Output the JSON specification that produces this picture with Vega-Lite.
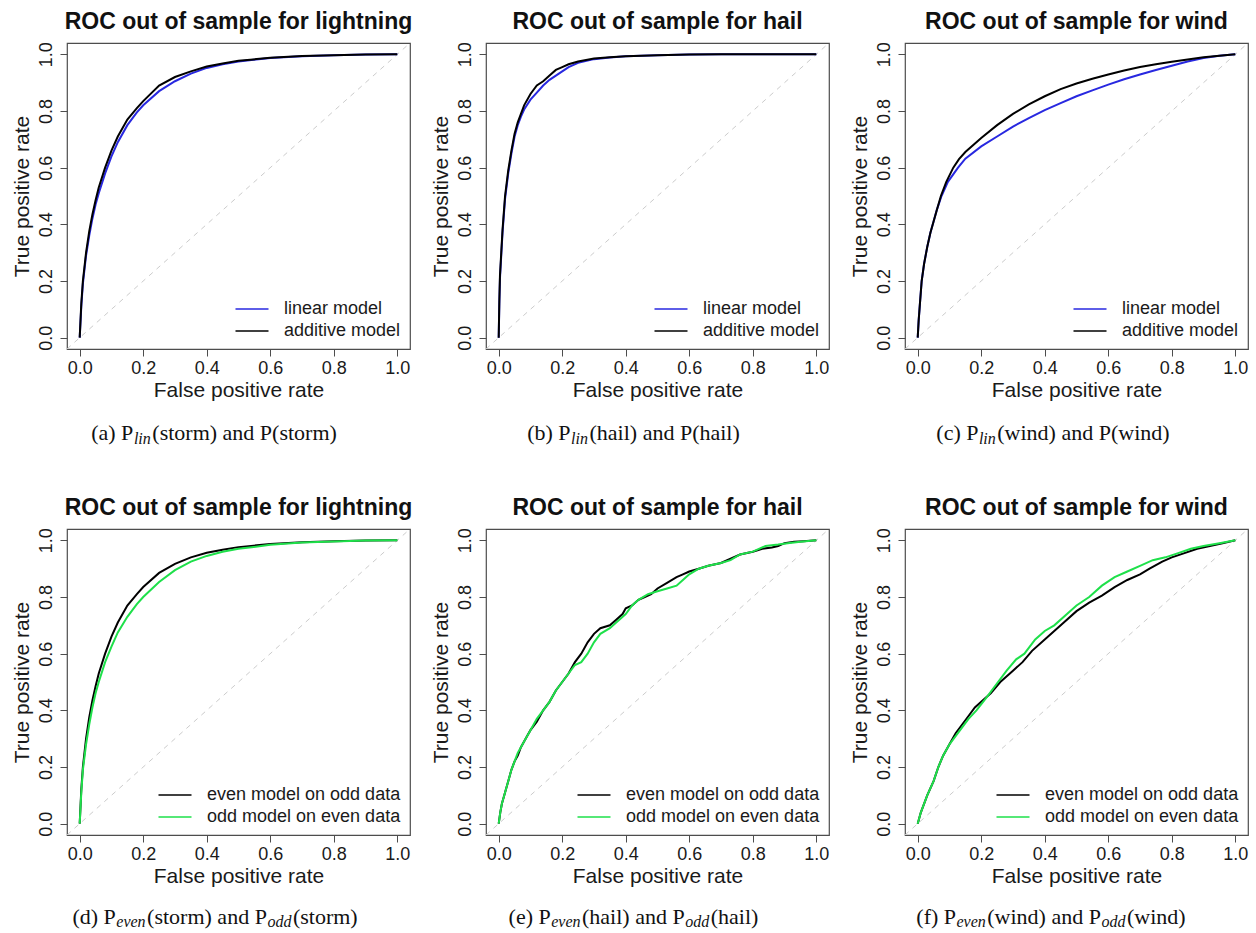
{
  "$schema": "https://vega.github.io/schema/vega-lite/v6.json",
  "bounds": "flush",
  "padding": {"left": 10, "top": 10, "right": 5, "bottom": 5},
  "background": "white",
  "columns": 3,
  "spacing": {"row": 180, "column": 76},
  "resolve": {"scale": {"color": "independent"}, "legend": {"color": "independent"}},
  "datasets": {
    "roc": [
      {"p":"a","m":"linear model","x":0,"y":0},{"p":"a","m":"linear model","x":0.005,"y":0.11},{"p":"a","m":"linear model","x":0.01,"y":0.19},{"p":"a","m":"linear model","x":0.02,"y":0.29},{"p":"a","m":"linear model","x":0.03,"y":0.36},{"p":"a","m":"linear model","x":0.04,"y":0.42},{"p":"a","m":"linear model","x":0.05,"y":0.47},{"p":"a","m":"linear model","x":0.06,"y":0.51},{"p":"a","m":"linear model","x":0.08,"y":0.58},{"p":"a","m":"linear model","x":0.1,"y":0.64},{"p":"a","m":"linear model","x":0.12,"y":0.69},{"p":"a","m":"linear model","x":0.15,"y":0.75},{"p":"a","m":"linear model","x":0.18,"y":0.795},{"p":"a","m":"linear model","x":0.2,"y":0.82},{"p":"a","m":"linear model","x":0.25,"y":0.87},{"p":"a","m":"linear model","x":0.3,"y":0.905},{"p":"a","m":"linear model","x":0.35,"y":0.932},{"p":"a","m":"linear model","x":0.4,"y":0.952},{"p":"a","m":"linear model","x":0.45,"y":0.965},{"p":"a","m":"linear model","x":0.5,"y":0.975},{"p":"a","m":"linear model","x":0.6,"y":0.987},{"p":"a","m":"linear model","x":0.7,"y":0.993},{"p":"a","m":"linear model","x":0.8,"y":0.997},{"p":"a","m":"linear model","x":0.9,"y":0.999},{"p":"a","m":"linear model","x":1,"y":1},
      {"p":"a","m":"additive model","x":0,"y":0},{"p":"a","m":"additive model","x":0.005,"y":0.12},{"p":"a","m":"additive model","x":0.01,"y":0.2},{"p":"a","m":"additive model","x":0.02,"y":0.3},{"p":"a","m":"additive model","x":0.03,"y":0.375},{"p":"a","m":"additive model","x":0.04,"y":0.435},{"p":"a","m":"additive model","x":0.05,"y":0.485},{"p":"a","m":"additive model","x":0.06,"y":0.53},{"p":"a","m":"additive model","x":0.08,"y":0.6},{"p":"a","m":"additive model","x":0.1,"y":0.66},{"p":"a","m":"additive model","x":0.12,"y":0.71},{"p":"a","m":"additive model","x":0.15,"y":0.77},{"p":"a","m":"additive model","x":0.18,"y":0.81},{"p":"a","m":"additive model","x":0.2,"y":0.835},{"p":"a","m":"additive model","x":0.25,"y":0.89},{"p":"a","m":"additive model","x":0.3,"y":0.92},{"p":"a","m":"additive model","x":0.35,"y":0.94},{"p":"a","m":"additive model","x":0.4,"y":0.957},{"p":"a","m":"additive model","x":0.45,"y":0.968},{"p":"a","m":"additive model","x":0.5,"y":0.977},{"p":"a","m":"additive model","x":0.6,"y":0.988},{"p":"a","m":"additive model","x":0.7,"y":0.994},{"p":"a","m":"additive model","x":0.8,"y":0.997},{"p":"a","m":"additive model","x":0.9,"y":0.999},{"p":"a","m":"additive model","x":1,"y":1},

      {"p":"b","m":"linear model","x":0,"y":0},{"p":"b","m":"linear model","x":0.002,"y":0.12},{"p":"b","m":"linear model","x":0.004,"y":0.21},{"p":"b","m":"linear model","x":0.008,"y":0.29},{"p":"b","m":"linear model","x":0.012,"y":0.37},{"p":"b","m":"linear model","x":0.016,"y":0.43},{"p":"b","m":"linear model","x":0.02,"y":0.49},{"p":"b","m":"linear model","x":0.03,"y":0.58},{"p":"b","m":"linear model","x":0.04,"y":0.65},{"p":"b","m":"linear model","x":0.05,"y":0.71},{"p":"b","m":"linear model","x":0.06,"y":0.75},{"p":"b","m":"linear model","x":0.07,"y":0.78},{"p":"b","m":"linear model","x":0.08,"y":0.805},{"p":"b","m":"linear model","x":0.1,"y":0.84},{"p":"b","m":"linear model","x":0.12,"y":0.865},{"p":"b","m":"linear model","x":0.14,"y":0.89},{"p":"b","m":"linear model","x":0.16,"y":0.91},{"p":"b","m":"linear model","x":0.18,"y":0.925},{"p":"b","m":"linear model","x":0.2,"y":0.94},{"p":"b","m":"linear model","x":0.22,"y":0.955},{"p":"b","m":"linear model","x":0.25,"y":0.97},{"p":"b","m":"linear model","x":0.3,"y":0.983},{"p":"b","m":"linear model","x":0.35,"y":0.989},{"p":"b","m":"linear model","x":0.4,"y":0.993},{"p":"b","m":"linear model","x":0.5,"y":0.997},{"p":"b","m":"linear model","x":0.6,"y":0.999},{"p":"b","m":"linear model","x":0.7,"y":1},{"p":"b","m":"linear model","x":1,"y":1},
      {"p":"b","m":"additive model","x":0,"y":0},{"p":"b","m":"additive model","x":0.002,"y":0.13},{"p":"b","m":"additive model","x":0.004,"y":0.22},{"p":"b","m":"additive model","x":0.008,"y":0.3},{"p":"b","m":"additive model","x":0.012,"y":0.38},{"p":"b","m":"additive model","x":0.016,"y":0.44},{"p":"b","m":"additive model","x":0.02,"y":0.5},{"p":"b","m":"additive model","x":0.03,"y":0.59},{"p":"b","m":"additive model","x":0.04,"y":0.66},{"p":"b","m":"additive model","x":0.05,"y":0.72},{"p":"b","m":"additive model","x":0.06,"y":0.76},{"p":"b","m":"additive model","x":0.07,"y":0.79},{"p":"b","m":"additive model","x":0.08,"y":0.82},{"p":"b","m":"additive model","x":0.1,"y":0.86},{"p":"b","m":"additive model","x":0.12,"y":0.89},{"p":"b","m":"additive model","x":0.14,"y":0.905},{"p":"b","m":"additive model","x":0.16,"y":0.925},{"p":"b","m":"additive model","x":0.18,"y":0.945},{"p":"b","m":"additive model","x":0.2,"y":0.955},{"p":"b","m":"additive model","x":0.22,"y":0.965},{"p":"b","m":"additive model","x":0.25,"y":0.975},{"p":"b","m":"additive model","x":0.3,"y":0.985},{"p":"b","m":"additive model","x":0.35,"y":0.99},{"p":"b","m":"additive model","x":0.4,"y":0.993},{"p":"b","m":"additive model","x":0.5,"y":0.997},{"p":"b","m":"additive model","x":0.6,"y":0.999},{"p":"b","m":"additive model","x":0.7,"y":1},{"p":"b","m":"additive model","x":1,"y":1},

      {"p":"c","m":"linear model","x":0,"y":0},{"p":"c","m":"linear model","x":0.003,"y":0.06},{"p":"c","m":"linear model","x":0.007,"y":0.12},{"p":"c","m":"linear model","x":0.0125,"y":0.2},{"p":"c","m":"linear model","x":0.02,"y":0.26},{"p":"c","m":"linear model","x":0.03,"y":0.32},{"p":"c","m":"linear model","x":0.04,"y":0.37},{"p":"c","m":"linear model","x":0.05,"y":0.41},{"p":"c","m":"linear model","x":0.06,"y":0.45},{"p":"c","m":"linear model","x":0.075,"y":0.5},{"p":"c","m":"linear model","x":0.095,"y":0.55},{"p":"c","m":"linear model","x":0.127,"y":0.6},{"p":"c","m":"linear model","x":0.15,"y":0.632},{"p":"c","m":"linear model","x":0.2,"y":0.675},{"p":"c","m":"linear model","x":0.25,"y":0.71},{"p":"c","m":"linear model","x":0.3,"y":0.745},{"p":"c","m":"linear model","x":0.35,"y":0.775},{"p":"c","m":"linear model","x":0.4,"y":0.803},{"p":"c","m":"linear model","x":0.45,"y":0.828},{"p":"c","m":"linear model","x":0.5,"y":0.852},{"p":"c","m":"linear model","x":0.55,"y":0.873},{"p":"c","m":"linear model","x":0.6,"y":0.893},{"p":"c","m":"linear model","x":0.65,"y":0.912},{"p":"c","m":"linear model","x":0.7,"y":0.929},{"p":"c","m":"linear model","x":0.75,"y":0.945},{"p":"c","m":"linear model","x":0.8,"y":0.96},{"p":"c","m":"linear model","x":0.85,"y":0.975},{"p":"c","m":"linear model","x":0.9,"y":0.987},{"p":"c","m":"linear model","x":0.95,"y":0.995},{"p":"c","m":"linear model","x":1,"y":1},
      {"p":"c","m":"additive model","x":0,"y":0},{"p":"c","m":"additive model","x":0.003,"y":0.06},{"p":"c","m":"additive model","x":0.007,"y":0.12},{"p":"c","m":"additive model","x":0.0125,"y":0.2},{"p":"c","m":"additive model","x":0.02,"y":0.26},{"p":"c","m":"additive model","x":0.03,"y":0.32},{"p":"c","m":"additive model","x":0.04,"y":0.37},{"p":"c","m":"additive model","x":0.05,"y":0.41},{"p":"c","m":"additive model","x":0.06,"y":0.45},{"p":"c","m":"additive model","x":0.073,"y":0.5},{"p":"c","m":"additive model","x":0.09,"y":0.55},{"p":"c","m":"additive model","x":0.112,"y":0.6},{"p":"c","m":"additive model","x":0.13,"y":0.63},{"p":"c","m":"additive model","x":0.15,"y":0.655},{"p":"c","m":"additive model","x":0.2,"y":0.705},{"p":"c","m":"additive model","x":0.25,"y":0.75},{"p":"c","m":"additive model","x":0.3,"y":0.79},{"p":"c","m":"additive model","x":0.35,"y":0.823},{"p":"c","m":"additive model","x":0.4,"y":0.852},{"p":"c","m":"additive model","x":0.45,"y":0.877},{"p":"c","m":"additive model","x":0.5,"y":0.897},{"p":"c","m":"additive model","x":0.55,"y":0.914},{"p":"c","m":"additive model","x":0.6,"y":0.929},{"p":"c","m":"additive model","x":0.65,"y":0.943},{"p":"c","m":"additive model","x":0.7,"y":0.955},{"p":"c","m":"additive model","x":0.75,"y":0.965},{"p":"c","m":"additive model","x":0.8,"y":0.974},{"p":"c","m":"additive model","x":0.85,"y":0.982},{"p":"c","m":"additive model","x":0.9,"y":0.99},{"p":"c","m":"additive model","x":0.95,"y":0.995},{"p":"c","m":"additive model","x":1,"y":1},

      {"p":"d","m":"even model on odd data","x":0,"y":0},{"p":"d","m":"even model on odd data","x":0.005,"y":0.12},{"p":"d","m":"even model on odd data","x":0.01,"y":0.2},{"p":"d","m":"even model on odd data","x":0.02,"y":0.3},{"p":"d","m":"even model on odd data","x":0.03,"y":0.375},{"p":"d","m":"even model on odd data","x":0.04,"y":0.435},{"p":"d","m":"even model on odd data","x":0.05,"y":0.485},{"p":"d","m":"even model on odd data","x":0.06,"y":0.53},{"p":"d","m":"even model on odd data","x":0.08,"y":0.6},{"p":"d","m":"even model on odd data","x":0.1,"y":0.66},{"p":"d","m":"even model on odd data","x":0.12,"y":0.71},{"p":"d","m":"even model on odd data","x":0.15,"y":0.77},{"p":"d","m":"even model on odd data","x":0.18,"y":0.81},{"p":"d","m":"even model on odd data","x":0.2,"y":0.835},{"p":"d","m":"even model on odd data","x":0.25,"y":0.885},{"p":"d","m":"even model on odd data","x":0.3,"y":0.917},{"p":"d","m":"even model on odd data","x":0.35,"y":0.94},{"p":"d","m":"even model on odd data","x":0.4,"y":0.956},{"p":"d","m":"even model on odd data","x":0.45,"y":0.967},{"p":"d","m":"even model on odd data","x":0.5,"y":0.976},{"p":"d","m":"even model on odd data","x":0.6,"y":0.987},{"p":"d","m":"even model on odd data","x":0.7,"y":0.993},{"p":"d","m":"even model on odd data","x":0.8,"y":0.997},{"p":"d","m":"even model on odd data","x":0.9,"y":0.999},{"p":"d","m":"even model on odd data","x":1,"y":1},
      {"p":"d","m":"odd model on even data","x":0,"y":0},{"p":"d","m":"odd model on even data","x":0.005,"y":0.11},{"p":"d","m":"odd model on even data","x":0.01,"y":0.19},{"p":"d","m":"odd model on even data","x":0.02,"y":0.28},{"p":"d","m":"odd model on even data","x":0.03,"y":0.35},{"p":"d","m":"odd model on even data","x":0.04,"y":0.41},{"p":"d","m":"odd model on even data","x":0.05,"y":0.46},{"p":"d","m":"odd model on even data","x":0.06,"y":0.5},{"p":"d","m":"odd model on even data","x":0.08,"y":0.57},{"p":"d","m":"odd model on even data","x":0.1,"y":0.625},{"p":"d","m":"odd model on even data","x":0.12,"y":0.675},{"p":"d","m":"odd model on even data","x":0.15,"y":0.73},{"p":"d","m":"odd model on even data","x":0.18,"y":0.775},{"p":"d","m":"odd model on even data","x":0.2,"y":0.8},{"p":"d","m":"odd model on even data","x":0.25,"y":0.853},{"p":"d","m":"odd model on even data","x":0.3,"y":0.895},{"p":"d","m":"odd model on even data","x":0.35,"y":0.925},{"p":"d","m":"odd model on even data","x":0.4,"y":0.945},{"p":"d","m":"odd model on even data","x":0.45,"y":0.96},{"p":"d","m":"odd model on even data","x":0.5,"y":0.97},{"p":"d","m":"odd model on even data","x":0.6,"y":0.984},{"p":"d","m":"odd model on even data","x":0.7,"y":0.992},{"p":"d","m":"odd model on even data","x":0.8,"y":0.996},{"p":"d","m":"odd model on even data","x":0.9,"y":0.999},{"p":"d","m":"odd model on even data","x":1,"y":1},

      {"p":"e","m":"even model on odd data","x":0,"y":0},{"p":"e","m":"even model on odd data","x":0.005,"y":0.04},{"p":"e","m":"even model on odd data","x":0.01,"y":0.07},{"p":"e","m":"even model on odd data","x":0.02,"y":0.11},{"p":"e","m":"even model on odd data","x":0.03,"y":0.15},{"p":"e","m":"even model on odd data","x":0.04,"y":0.19},{"p":"e","m":"even model on odd data","x":0.05,"y":0.22},{"p":"e","m":"even model on odd data","x":0.06,"y":0.24},{"p":"e","m":"even model on odd data","x":0.07,"y":0.27},{"p":"e","m":"even model on odd data","x":0.08,"y":0.29},{"p":"e","m":"even model on odd data","x":0.09,"y":0.31},{"p":"e","m":"even model on odd data","x":0.1,"y":0.33},{"p":"e","m":"even model on odd data","x":0.12,"y":0.36},{"p":"e","m":"even model on odd data","x":0.14,"y":0.4},{"p":"e","m":"even model on odd data","x":0.16,"y":0.43},{"p":"e","m":"even model on odd data","x":0.18,"y":0.47},{"p":"e","m":"even model on odd data","x":0.2,"y":0.5},{"p":"e","m":"even model on odd data","x":0.22,"y":0.53},{"p":"e","m":"even model on odd data","x":0.24,"y":0.57},{"p":"e","m":"even model on odd data","x":0.26,"y":0.6},{"p":"e","m":"even model on odd data","x":0.28,"y":0.64},{"p":"e","m":"even model on odd data","x":0.3,"y":0.67},{"p":"e","m":"even model on odd data","x":0.32,"y":0.69},{"p":"e","m":"even model on odd data","x":0.35,"y":0.7},{"p":"e","m":"even model on odd data","x":0.37,"y":0.72},{"p":"e","m":"even model on odd data","x":0.39,"y":0.74},{"p":"e","m":"even model on odd data","x":0.4,"y":0.76},{"p":"e","m":"even model on odd data","x":0.42,"y":0.77},{"p":"e","m":"even model on odd data","x":0.44,"y":0.79},{"p":"e","m":"even model on odd data","x":0.46,"y":0.8},{"p":"e","m":"even model on odd data","x":0.48,"y":0.81},{"p":"e","m":"even model on odd data","x":0.5,"y":0.83},{"p":"e","m":"even model on odd data","x":0.53,"y":0.85},{"p":"e","m":"even model on odd data","x":0.56,"y":0.87},{"p":"e","m":"even model on odd data","x":0.58,"y":0.88},{"p":"e","m":"even model on odd data","x":0.6,"y":0.89},{"p":"e","m":"even model on odd data","x":0.63,"y":0.9},{"p":"e","m":"even model on odd data","x":0.66,"y":0.91},{"p":"e","m":"even model on odd data","x":0.7,"y":0.92},{"p":"e","m":"even model on odd data","x":0.73,"y":0.935},{"p":"e","m":"even model on odd data","x":0.76,"y":0.95},{"p":"e","m":"even model on odd data","x":0.8,"y":0.96},{"p":"e","m":"even model on odd data","x":0.83,"y":0.97},{"p":"e","m":"even model on odd data","x":0.86,"y":0.975},{"p":"e","m":"even model on odd data","x":0.88,"y":0.98},{"p":"e","m":"even model on odd data","x":0.9,"y":0.99},{"p":"e","m":"even model on odd data","x":0.93,"y":0.995},{"p":"e","m":"even model on odd data","x":0.96,"y":0.997},{"p":"e","m":"even model on odd data","x":1,"y":1},
      {"p":"e","m":"odd model on even data","x":0,"y":0},{"p":"e","m":"odd model on even data","x":0.005,"y":0.04},{"p":"e","m":"odd model on even data","x":0.01,"y":0.07},{"p":"e","m":"odd model on even data","x":0.02,"y":0.11},{"p":"e","m":"odd model on even data","x":0.03,"y":0.15},{"p":"e","m":"odd model on even data","x":0.04,"y":0.19},{"p":"e","m":"odd model on even data","x":0.05,"y":0.22},{"p":"e","m":"odd model on even data","x":0.06,"y":0.25},{"p":"e","m":"odd model on even data","x":0.07,"y":0.27},{"p":"e","m":"odd model on even data","x":0.08,"y":0.29},{"p":"e","m":"odd model on even data","x":0.1,"y":0.33},{"p":"e","m":"odd model on even data","x":0.12,"y":0.37},{"p":"e","m":"odd model on even data","x":0.14,"y":0.4},{"p":"e","m":"odd model on even data","x":0.16,"y":0.43},{"p":"e","m":"odd model on even data","x":0.18,"y":0.47},{"p":"e","m":"odd model on even data","x":0.2,"y":0.5},{"p":"e","m":"odd model on even data","x":0.22,"y":0.53},{"p":"e","m":"odd model on even data","x":0.24,"y":0.56},{"p":"e","m":"odd model on even data","x":0.26,"y":0.57},{"p":"e","m":"odd model on even data","x":0.28,"y":0.6},{"p":"e","m":"odd model on even data","x":0.3,"y":0.64},{"p":"e","m":"odd model on even data","x":0.32,"y":0.67},{"p":"e","m":"odd model on even data","x":0.35,"y":0.69},{"p":"e","m":"odd model on even data","x":0.37,"y":0.71},{"p":"e","m":"odd model on even data","x":0.4,"y":0.74},{"p":"e","m":"odd model on even data","x":0.42,"y":0.77},{"p":"e","m":"odd model on even data","x":0.44,"y":0.79},{"p":"e","m":"odd model on even data","x":0.47,"y":0.81},{"p":"e","m":"odd model on even data","x":0.5,"y":0.82},{"p":"e","m":"odd model on even data","x":0.53,"y":0.83},{"p":"e","m":"odd model on even data","x":0.56,"y":0.84},{"p":"e","m":"odd model on even data","x":0.58,"y":0.86},{"p":"e","m":"odd model on even data","x":0.6,"y":0.88},{"p":"e","m":"odd model on even data","x":0.63,"y":0.9},{"p":"e","m":"odd model on even data","x":0.66,"y":0.91},{"p":"e","m":"odd model on even data","x":0.7,"y":0.92},{"p":"e","m":"odd model on even data","x":0.73,"y":0.93},{"p":"e","m":"odd model on even data","x":0.76,"y":0.95},{"p":"e","m":"odd model on even data","x":0.8,"y":0.96},{"p":"e","m":"odd model on even data","x":0.84,"y":0.98},{"p":"e","m":"odd model on even data","x":0.88,"y":0.985},{"p":"e","m":"odd model on even data","x":0.91,"y":0.99},{"p":"e","m":"odd model on even data","x":0.95,"y":0.995},{"p":"e","m":"odd model on even data","x":1,"y":1},

      {"p":"f","m":"even model on odd data","x":0,"y":0},{"p":"f","m":"even model on odd data","x":0.005,"y":0.02},{"p":"f","m":"even model on odd data","x":0.01,"y":0.04},{"p":"f","m":"even model on odd data","x":0.02,"y":0.07},{"p":"f","m":"even model on odd data","x":0.03,"y":0.1},{"p":"f","m":"even model on odd data","x":0.05,"y":0.15},{"p":"f","m":"even model on odd data","x":0.065,"y":0.2},{"p":"f","m":"even model on odd data","x":0.08,"y":0.24},{"p":"f","m":"even model on odd data","x":0.1,"y":0.28},{"p":"f","m":"even model on odd data","x":0.12,"y":0.32},{"p":"f","m":"even model on odd data","x":0.14,"y":0.35},{"p":"f","m":"even model on odd data","x":0.16,"y":0.38},{"p":"f","m":"even model on odd data","x":0.18,"y":0.41},{"p":"f","m":"even model on odd data","x":0.2,"y":0.43},{"p":"f","m":"even model on odd data","x":0.23,"y":0.46},{"p":"f","m":"even model on odd data","x":0.26,"y":0.5},{"p":"f","m":"even model on odd data","x":0.3,"y":0.54},{"p":"f","m":"even model on odd data","x":0.33,"y":0.57},{"p":"f","m":"even model on odd data","x":0.36,"y":0.61},{"p":"f","m":"even model on odd data","x":0.4,"y":0.65},{"p":"f","m":"even model on odd data","x":0.43,"y":0.68},{"p":"f","m":"even model on odd data","x":0.46,"y":0.71},{"p":"f","m":"even model on odd data","x":0.5,"y":0.75},{"p":"f","m":"even model on odd data","x":0.54,"y":0.78},{"p":"f","m":"even model on odd data","x":0.58,"y":0.805},{"p":"f","m":"even model on odd data","x":0.62,"y":0.835},{"p":"f","m":"even model on odd data","x":0.66,"y":0.86},{"p":"f","m":"even model on odd data","x":0.7,"y":0.88},{"p":"f","m":"even model on odd data","x":0.73,"y":0.9},{"p":"f","m":"even model on odd data","x":0.77,"y":0.925},{"p":"f","m":"even model on odd data","x":0.8,"y":0.94},{"p":"f","m":"even model on odd data","x":0.84,"y":0.955},{"p":"f","m":"even model on odd data","x":0.88,"y":0.97},{"p":"f","m":"even model on odd data","x":0.92,"y":0.98},{"p":"f","m":"even model on odd data","x":0.96,"y":0.99},{"p":"f","m":"even model on odd data","x":1,"y":1},
      {"p":"f","m":"odd model on even data","x":0,"y":0},{"p":"f","m":"odd model on even data","x":0.005,"y":0.02},{"p":"f","m":"odd model on even data","x":0.01,"y":0.04},{"p":"f","m":"odd model on even data","x":0.02,"y":0.07},{"p":"f","m":"odd model on even data","x":0.03,"y":0.1},{"p":"f","m":"odd model on even data","x":0.05,"y":0.15},{"p":"f","m":"odd model on even data","x":0.065,"y":0.2},{"p":"f","m":"odd model on even data","x":0.08,"y":0.24},{"p":"f","m":"odd model on even data","x":0.1,"y":0.28},{"p":"f","m":"odd model on even data","x":0.12,"y":0.31},{"p":"f","m":"odd model on even data","x":0.14,"y":0.34},{"p":"f","m":"odd model on even data","x":0.16,"y":0.37},{"p":"f","m":"odd model on even data","x":0.185,"y":0.4},{"p":"f","m":"odd model on even data","x":0.22,"y":0.45},{"p":"f","m":"odd model on even data","x":0.253,"y":0.5},{"p":"f","m":"odd model on even data","x":0.28,"y":0.54},{"p":"f","m":"odd model on even data","x":0.31,"y":0.58},{"p":"f","m":"odd model on even data","x":0.336,"y":0.6},{"p":"f","m":"odd model on even data","x":0.37,"y":0.65},{"p":"f","m":"odd model on even data","x":0.4,"y":0.68},{"p":"f","m":"odd model on even data","x":0.43,"y":0.7},{"p":"f","m":"odd model on even data","x":0.47,"y":0.74},{"p":"f","m":"odd model on even data","x":0.5,"y":0.77},{"p":"f","m":"odd model on even data","x":0.54,"y":0.8},{"p":"f","m":"odd model on even data","x":0.58,"y":0.84},{"p":"f","m":"odd model on even data","x":0.62,"y":0.87},{"p":"f","m":"odd model on even data","x":0.66,"y":0.89},{"p":"f","m":"odd model on even data","x":0.7,"y":0.91},{"p":"f","m":"odd model on even data","x":0.74,"y":0.93},{"p":"f","m":"odd model on even data","x":0.78,"y":0.94},{"p":"f","m":"odd model on even data","x":0.82,"y":0.955},{"p":"f","m":"odd model on even data","x":0.86,"y":0.97},{"p":"f","m":"odd model on even data","x":0.9,"y":0.98},{"p":"f","m":"odd model on even data","x":0.95,"y":0.99},{"p":"f","m":"odd model on even data","x":1,"y":1}
    ]
  },
  "concat": [
    {
      "width": 343, "height": 306,
      "title": "ROC out of sample for lightning",
      "layer": [
        {"data": {"values": [{}]}, "mark": {"type": "rule", "color": "#cccccc", "strokeDash": [5, 5], "strokeWidth": 1},
         "encoding": {"x": {"datum": -0.04, "type": "quantitative"}, "y": {"datum": -0.04, "type": "quantitative"}, "x2": {"datum": 1.04}, "y2": {"datum": 1.04}}},
        {"data": {"name": "roc"}, "transform": [{"filter": "datum.p === 'a'"}], "mark": {"type": "line", "strokeWidth": 2},
         "encoding": {
           "x": {"field": "x", "type": "quantitative", "scale": {"domain": [-0.04, 1.04], "nice": false, "zero": false}, "axis": {"title": "False positive rate", "values": [0, 0.2, 0.4, 0.6, 0.8, 1]}},
           "y": {"field": "y", "type": "quantitative", "scale": {"domain": [-0.04, 1.04], "nice": false, "zero": false}, "axis": {"title": "True positive rate", "values": [0, 0.2, 0.4, 0.6, 0.8, 1]}},
           "color": {"field": "m", "type": "nominal", "scale": {"domain": ["linear model", "additive model"], "range": ["#2828e0", "#000000"]}, "legend": {"title": null}}}},
        {"data": {"values": [{}]}, "mark": {"type": "text", "font": "Liberation Serif", "fontSize": 22, "align": "left", "baseline": "alphabetic", "color": "#111111"},
         "encoding": {"x": {"datum": 0.0362}, "y": {"datum": -0.361}, "text": {"value": "(a) P"}}},
        {"data": {"values": [{}]}, "mark": {"type": "text", "font": "Liberation Serif", "fontSize": 16, "fontStyle": "italic", "align": "left", "baseline": "alphabetic", "color": "#111111"},
         "encoding": {"x": {"datum": 0.1707}, "y": {"datum": -0.375}, "text": {"value": "lin"}}},
        {"data": {"values": [{}]}, "mark": {"type": "text", "font": "Liberation Serif", "fontSize": 22, "align": "left", "baseline": "alphabetic", "color": "#111111"},
         "encoding": {"x": {"datum": 0.2286}, "y": {"datum": -0.361}, "text": {"value": "(storm) and P(storm)"}}}
      ]
    },
    {
      "width": 343, "height": 306,
      "title": "ROC out of sample for hail",
      "layer": [
        {"data": {"values": [{}]}, "mark": {"type": "rule", "color": "#cccccc", "strokeDash": [5, 5], "strokeWidth": 1},
         "encoding": {"x": {"datum": -0.04, "type": "quantitative"}, "y": {"datum": -0.04, "type": "quantitative"}, "x2": {"datum": 1.04}, "y2": {"datum": 1.04}}},
        {"data": {"name": "roc"}, "transform": [{"filter": "datum.p === 'b'"}], "mark": {"type": "line", "strokeWidth": 2},
         "encoding": {
           "x": {"field": "x", "type": "quantitative", "scale": {"domain": [-0.04, 1.04], "nice": false, "zero": false}, "axis": {"title": "False positive rate", "values": [0, 0.2, 0.4, 0.6, 0.8, 1]}},
           "y": {"field": "y", "type": "quantitative", "scale": {"domain": [-0.04, 1.04], "nice": false, "zero": false}, "axis": {"title": "True positive rate", "values": [0, 0.2, 0.4, 0.6, 0.8, 1]}},
           "color": {"field": "m", "type": "nominal", "scale": {"domain": ["linear model", "additive model"], "range": ["#2828e0", "#000000"]}, "legend": {"title": null}}}},
        {"data": {"values": [{}]}, "mark": {"type": "text", "font": "Liberation Serif", "fontSize": 22, "align": "left", "baseline": "alphabetic", "color": "#111111"},
         "encoding": {"x": {"datum": 0.0897}, "y": {"datum": -0.361}, "text": {"value": "(b) P"}}},
        {"data": {"values": [{}]}, "mark": {"type": "text", "font": "Liberation Serif", "fontSize": 16, "fontStyle": "italic", "align": "left", "baseline": "alphabetic", "color": "#111111"},
         "encoding": {"x": {"datum": 0.228}, "y": {"datum": -0.375}, "text": {"value": "lin"}}},
        {"data": {"values": [{}]}, "mark": {"type": "text", "font": "Liberation Serif", "fontSize": 22, "align": "left", "baseline": "alphabetic", "color": "#111111"},
         "encoding": {"x": {"datum": 0.2859}, "y": {"datum": -0.361}, "text": {"value": "(hail) and P(hail)"}}}
      ]
    },
    {
      "width": 343, "height": 306,
      "title": "ROC out of sample for wind",
      "layer": [
        {"data": {"values": [{}]}, "mark": {"type": "rule", "color": "#cccccc", "strokeDash": [5, 5], "strokeWidth": 1},
         "encoding": {"x": {"datum": -0.04, "type": "quantitative"}, "y": {"datum": -0.04, "type": "quantitative"}, "x2": {"datum": 1.04}, "y2": {"datum": 1.04}}},
        {"data": {"name": "roc"}, "transform": [{"filter": "datum.p === 'c'"}], "mark": {"type": "line", "strokeWidth": 2},
         "encoding": {
           "x": {"field": "x", "type": "quantitative", "scale": {"domain": [-0.04, 1.04], "nice": false, "zero": false}, "axis": {"title": "False positive rate", "values": [0, 0.2, 0.4, 0.6, 0.8, 1]}},
           "y": {"field": "y", "type": "quantitative", "scale": {"domain": [-0.04, 1.04], "nice": false, "zero": false}, "axis": {"title": "True positive rate", "values": [0, 0.2, 0.4, 0.6, 0.8, 1]}},
           "color": {"field": "m", "type": "nominal", "scale": {"domain": ["linear model", "additive model"], "range": ["#2828e0", "#000000"]}, "legend": {"title": null}}}},
        {"data": {"values": [{}]}, "mark": {"type": "text", "font": "Liberation Serif", "fontSize": 22, "align": "left", "baseline": "alphabetic", "color": "#111111"},
         "encoding": {"x": {"datum": 0.0586}, "y": {"datum": -0.361}, "text": {"value": "(c) P"}}},
        {"data": {"values": [{}]}, "mark": {"type": "text", "font": "Liberation Serif", "fontSize": 16, "fontStyle": "italic", "align": "left", "baseline": "alphabetic", "color": "#111111"},
         "encoding": {"x": {"datum": 0.1927}, "y": {"datum": -0.375}, "text": {"value": "lin"}}},
        {"data": {"values": [{}]}, "mark": {"type": "text", "font": "Liberation Serif", "fontSize": 22, "align": "left", "baseline": "alphabetic", "color": "#111111"},
         "encoding": {"x": {"datum": 0.2506}, "y": {"datum": -0.361}, "text": {"value": "(wind) and P(wind)"}}}
      ]
    },
    {
      "width": 343, "height": 306,
      "title": "ROC out of sample for lightning",
      "layer": [
        {"data": {"values": [{}]}, "mark": {"type": "rule", "color": "#cccccc", "strokeDash": [5, 5], "strokeWidth": 1},
         "encoding": {"x": {"datum": -0.04, "type": "quantitative"}, "y": {"datum": -0.04, "type": "quantitative"}, "x2": {"datum": 1.04}, "y2": {"datum": 1.04}}},
        {"data": {"name": "roc"}, "transform": [{"filter": "datum.p === 'd'"}], "mark": {"type": "line", "strokeWidth": 2},
         "encoding": {
           "x": {"field": "x", "type": "quantitative", "scale": {"domain": [-0.04, 1.04], "nice": false, "zero": false}, "axis": {"title": "False positive rate", "values": [0, 0.2, 0.4, 0.6, 0.8, 1]}},
           "y": {"field": "y", "type": "quantitative", "scale": {"domain": [-0.04, 1.04], "nice": false, "zero": false}, "axis": {"title": "True positive rate", "values": [0, 0.2, 0.4, 0.6, 0.8, 1]}},
           "color": {"field": "m", "type": "nominal", "scale": {"domain": ["even model on odd data", "odd model on even data"], "range": ["#000000", "#1ee04a"]}, "legend": {"title": null}}}},
        {"data": {"values": [{}]}, "mark": {"type": "text", "font": "Liberation Serif", "fontSize": 22, "align": "left", "baseline": "alphabetic", "color": "#111111"},
         "encoding": {"x": {"datum": -0.023}, "y": {"datum": -0.354}, "text": {"value": "(d) P"}}},
        {"data": {"values": [{}]}, "mark": {"type": "text", "font": "Liberation Serif", "fontSize": 16, "fontStyle": "italic", "align": "left", "baseline": "alphabetic", "color": "#111111"},
         "encoding": {"x": {"datum": 0.1152}, "y": {"datum": -0.365}, "text": {"value": "even"}}},
        {"data": {"values": [{}]}, "mark": {"type": "text", "font": "Liberation Serif", "fontSize": 22, "align": "left", "baseline": "alphabetic", "color": "#111111"},
         "encoding": {"x": {"datum": 0.2122}, "y": {"datum": -0.354}, "text": {"value": "(storm) and P"}}},
        {"data": {"values": [{}]}, "mark": {"type": "text", "font": "Liberation Serif", "fontSize": 16, "fontStyle": "italic", "align": "left", "baseline": "alphabetic", "color": "#111111"},
         "encoding": {"x": {"datum": 0.591}, "y": {"datum": -0.365}, "text": {"value": "odd"}}},
        {"data": {"values": [{}]}, "mark": {"type": "text", "font": "Liberation Serif", "fontSize": 22, "align": "left", "baseline": "alphabetic", "color": "#111111"},
         "encoding": {"x": {"datum": 0.6713}, "y": {"datum": -0.354}, "text": {"value": "(storm)"}}}
      ]
    },
    {
      "width": 343, "height": 306,
      "title": "ROC out of sample for hail",
      "layer": [
        {"data": {"values": [{}]}, "mark": {"type": "rule", "color": "#cccccc", "strokeDash": [5, 5], "strokeWidth": 1},
         "encoding": {"x": {"datum": -0.04, "type": "quantitative"}, "y": {"datum": -0.04, "type": "quantitative"}, "x2": {"datum": 1.04}, "y2": {"datum": 1.04}}},
        {"data": {"name": "roc"}, "transform": [{"filter": "datum.p === 'e'"}], "mark": {"type": "line", "strokeWidth": 2},
         "encoding": {
           "x": {"field": "x", "type": "quantitative", "scale": {"domain": [-0.04, 1.04], "nice": false, "zero": false}, "axis": {"title": "False positive rate", "values": [0, 0.2, 0.4, 0.6, 0.8, 1]}},
           "y": {"field": "y", "type": "quantitative", "scale": {"domain": [-0.04, 1.04], "nice": false, "zero": false}, "axis": {"title": "True positive rate", "values": [0, 0.2, 0.4, 0.6, 0.8, 1]}},
           "color": {"field": "m", "type": "nominal", "scale": {"domain": ["even model on odd data", "odd model on even data"], "range": ["#000000", "#1ee04a"]}, "legend": {"title": null}}}},
        {"data": {"values": [{}]}, "mark": {"type": "text", "font": "Liberation Serif", "fontSize": 22, "align": "left", "baseline": "alphabetic", "color": "#111111"},
         "encoding": {"x": {"datum": 0.0312}, "y": {"datum": -0.354}, "text": {"value": "(e) P"}}},
        {"data": {"values": [{}]}, "mark": {"type": "text", "font": "Liberation Serif", "fontSize": 16, "fontStyle": "italic", "align": "left", "baseline": "alphabetic", "color": "#111111"},
         "encoding": {"x": {"datum": 0.1653}, "y": {"datum": -0.365}, "text": {"value": "even"}}},
        {"data": {"values": [{}]}, "mark": {"type": "text", "font": "Liberation Serif", "fontSize": 22, "align": "left", "baseline": "alphabetic", "color": "#111111"},
         "encoding": {"x": {"datum": 0.2623}, "y": {"datum": -0.354}, "text": {"value": "(hail) and P"}}},
        {"data": {"values": [{}]}, "mark": {"type": "text", "font": "Liberation Serif", "fontSize": 16, "fontStyle": "italic", "align": "left", "baseline": "alphabetic", "color": "#111111"},
         "encoding": {"x": {"datum": 0.5872}, "y": {"datum": -0.365}, "text": {"value": "odd"}}},
        {"data": {"values": [{}]}, "mark": {"type": "text", "font": "Liberation Serif", "fontSize": 22, "align": "left", "baseline": "alphabetic", "color": "#111111"},
         "encoding": {"x": {"datum": 0.6675}, "y": {"datum": -0.354}, "text": {"value": "(hail)"}}}
      ]
    },
    {
      "width": 343, "height": 306,
      "title": "ROC out of sample for wind",
      "layer": [
        {"data": {"values": [{}]}, "mark": {"type": "rule", "color": "#cccccc", "strokeDash": [5, 5], "strokeWidth": 1},
         "encoding": {"x": {"datum": -0.04, "type": "quantitative"}, "y": {"datum": -0.04, "type": "quantitative"}, "x2": {"datum": 1.04}, "y2": {"datum": 1.04}}},
        {"data": {"name": "roc"}, "transform": [{"filter": "datum.p === 'f'"}], "mark": {"type": "line", "strokeWidth": 2},
         "encoding": {
           "x": {"field": "x", "type": "quantitative", "scale": {"domain": [-0.04, 1.04], "nice": false, "zero": false}, "axis": {"title": "False positive rate", "values": [0, 0.2, 0.4, 0.6, 0.8, 1]}},
           "y": {"field": "y", "type": "quantitative", "scale": {"domain": [-0.04, 1.04], "nice": false, "zero": false}, "axis": {"title": "True positive rate", "values": [0, 0.2, 0.4, 0.6, 0.8, 1]}},
           "color": {"field": "m", "type": "nominal", "scale": {"domain": ["even model on odd data", "odd model on even data"], "range": ["#000000", "#1ee04a"]}, "legend": {"title": null}}}},
        {"data": {"values": [{}]}, "mark": {"type": "text", "font": "Liberation Serif", "fontSize": 22, "align": "left", "baseline": "alphabetic", "color": "#111111"},
         "encoding": {"x": {"datum": -0.0044}, "y": {"datum": -0.354}, "text": {"value": "(f) P"}}},
        {"data": {"values": [{}]}, "mark": {"type": "text", "font": "Liberation Serif", "fontSize": 16, "fontStyle": "italic", "align": "left", "baseline": "alphabetic", "color": "#111111"},
         "encoding": {"x": {"datum": 0.1222}, "y": {"datum": -0.365}, "text": {"value": "even"}}},
        {"data": {"values": [{}]}, "mark": {"type": "text", "font": "Liberation Serif", "fontSize": 22, "align": "left", "baseline": "alphabetic", "color": "#111111"},
         "encoding": {"x": {"datum": 0.2191}, "y": {"datum": -0.354}, "text": {"value": "(wind) and P"}}},
        {"data": {"values": [{}]}, "mark": {"type": "text", "font": "Liberation Serif", "fontSize": 16, "fontStyle": "italic", "align": "left", "baseline": "alphabetic", "color": "#111111"},
         "encoding": {"x": {"datum": 0.5787}, "y": {"datum": -0.365}, "text": {"value": "odd"}}},
        {"data": {"values": [{}]}, "mark": {"type": "text", "font": "Liberation Serif", "fontSize": 22, "align": "left", "baseline": "alphabetic", "color": "#111111"},
         "encoding": {"x": {"datum": 0.659}, "y": {"datum": -0.354}, "text": {"value": "(wind)"}}}
      ]
    }
  ],
  "config": {
    "font": "Liberation Sans",
    "view": {"stroke": "#4d4d4d", "strokeWidth": 1.2},
    "axis": {"domain": false, "grid": false, "ticks": true, "tickColor": "#4d4d4d", "tickSize": 7, "tickWidth": 1,
      "labelFont": "Liberation Sans", "labelFontSize": 18, "labelColor": "#1a1a1a", "labelFlush": false, "labelOverlap": false,
      "titleFont": "Liberation Sans", "titleFontSize": 21, "titleFontWeight": "normal", "titleColor": "#1a1a1a", "format": ".1f"},
    "axisX": {"labelPadding": 3, "titlePadding": 2},
    "axisY": {"labelAngle": -90, "labelAlign": "center", "labelBaseline": "bottom", "labelPadding": 5, "titlePadding": 5},
    "title": {"font": "Liberation Sans", "fontSize": 23, "fontWeight": "bold", "color": "#111111", "anchor": "middle", "frame": "group", "offset": 8},
    "legend": {"orient": "bottom-right", "symbolType": "M-1.65,0H1.65", "symbolSize": 400, "symbolStrokeWidth": 1.5,
      "labelFont": "Liberation Sans", "labelFontSize": 18, "labelColor": "#1a1a1a", "labelOffset": 21, "labelLimit": 400,
      "rowPadding": 2, "offset": 9, "padding": 0}
  }
}
